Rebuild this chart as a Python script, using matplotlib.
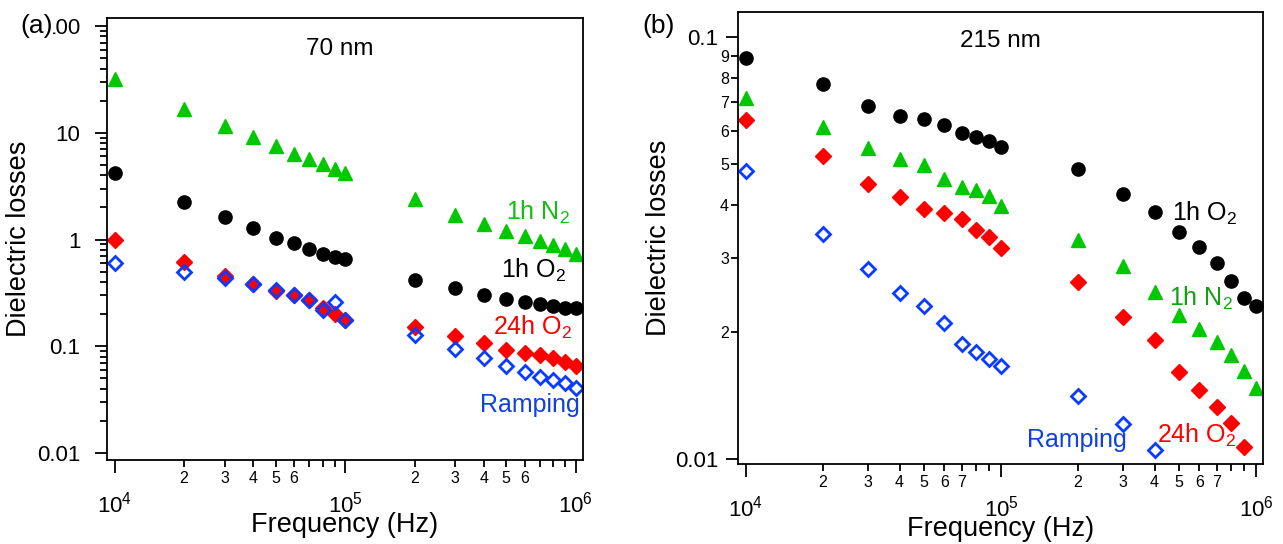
import numpy as np
import matplotlib
matplotlib.use('Agg')
import matplotlib.pyplot as plt
from matplotlib.ticker import FixedLocator, FuncFormatter

plt.rcParams['font.family'] = ['Liberation Sans', 'DejaVu Sans']
plt.rcParams['mathtext.fontset'] = 'custom'
plt.rcParams['mathtext.rm'] = 'Liberation Sans'
plt.rcParams['mathtext.it'] = 'Liberation Sans:italic'

nan = np.nan

freq = [1e4, 2e4, 3e4, 4e4, 5e4, 6e4, 7e4, 8e4, 9e4, 1e5,
        2e5, 3e5, 4e5, 5e5, 6e5, 7e5, 8e5, 9e5, 1e6]

# (a) 70 nm
n2_1h_70 = [32, 16.8, 11.6, 9.2, 7.6, 6.3, 5.7, 5.1, 4.6, 4.2,
            2.4, 1.7, 1.4, 1.19, 1.07, 0.96, 0.88, 0.82, 0.74]
o2_1h_70 = [4.2, 2.26, 1.61, 1.27, 1.04, 0.92, 0.82, 0.74, 0.69, 0.66,
            0.42, 0.35, 0.30, 0.28, 0.26, 0.25, 0.24, 0.23, 0.23]
o2_24h_70 = [1.0, 0.61, 0.46, 0.38, 0.33, 0.30, 0.27, 0.23, 0.20, 0.175,
             0.15, 0.124, 0.107, 0.092, 0.086, 0.082, 0.077, 0.072, 0.066]
ramp_70 = [0.60, 0.50, 0.44, 0.38, 0.34, 0.30, 0.27, 0.22, 0.26, 0.175,
           0.127, 0.094, 0.078, 0.065, 0.058, 0.051, 0.048, 0.045, 0.041]

# (b) 215 nm
o2_1h_215 = [0.0893, 0.0774, 0.0686, 0.0651, 0.0639, 0.0618, 0.0593, 0.0580, 0.0568, 0.0549,
             0.0486, 0.0425, 0.0384, 0.0345, 0.0318, 0.0291, 0.0264, 0.0241, 0.0230]
n2_1h_215 = [0.0718, 0.0613, 0.0545, 0.0513, 0.0498, 0.0460, 0.0440, 0.0434, 0.0421, 0.0398,
             0.0330, 0.0286, 0.0249, 0.0219, 0.0203, 0.0189, 0.0176, 0.0162, 0.0147]
o2_24h_215 = [0.0636, 0.0522, 0.0448, 0.0417, 0.0392, 0.0382, 0.0371, 0.0348, 0.0336, 0.0316,
              0.0262, 0.0217, 0.0191, 0.0161, 0.0146, 0.0133, 0.0122, 0.0107, nan]
ramp_215 = [0.0482, 0.0341, 0.0282, 0.0247, 0.0230, 0.0210, 0.0187, 0.0179, 0.0173, 0.0166,
            0.0141, 0.0121, 0.0105, nan, nan, nan, nan, nan, nan]

GREEN = '#00c800'
RED = '#ff0000'
BLUE = '#0a3cff'

fig = plt.figure(figsize=(12.83, 5.44), dpi=100)
ax1 = fig.add_axes([0.0834, 0.1544, 0.3710, 0.8125])
ax2 = fig.add_axes([0.5752, 0.1471, 0.4092, 0.8308])


def draw(ax, n2, o2, o224, ramp):
    ax.plot(freq, n2, ls='none', marker='^', ms=9.5, color=GREEN, mec=GREEN)
    ax.plot(freq, o2, ls='none', marker='o', ms=9.5, color='black')
    ax.plot(freq, o224, ls='none', marker='D', ms=8, color=RED, mec=RED)
    ax.plot(freq, ramp, ls='none', marker='D', ms=7.5, mfc='none', mec=BLUE, mew=2)


def style(ax, xlabelled):
    ax.set_xscale('log')
    ax.set_yscale('log')
    for s in ax.spines.values():
        s.set_linewidth(1.3)
    ax.xaxis.set_major_locator(FixedLocator([1e4, 1e5, 1e6]))
    ax.xaxis.set_major_formatter(FuncFormatter(
        lambda v, p: r'$\mathregular{10^{%d}}$' % round(np.log10(v))))
    ax.xaxis.set_minor_locator(FixedLocator([m * 10.0 ** e for e in (4, 5) for m in range(2, 10)]))

    def xminor(v, p):
        m = int(round(v / 10 ** np.floor(np.log10(v) + 1e-9)))
        return str(m) if m in xlabelled else ''
    ax.xaxis.set_minor_formatter(FuncFormatter(xminor))
    ax.tick_params(axis='x', which='major', direction='out', length=9, width=1.3,
                   labelsize=16, pad=14)
    ax.tick_params(axis='x', which='minor', direction='out', length=5, width=1.3,
                   labelsize=11.5, pad=3)
    ax.tick_params(axis='y', which='major', direction='out', length=9, width=1.3,
                   labelsize=16)
    ax.tick_params(axis='y', which='minor', direction='out', length=5, width=1.3,
                   labelsize=11.5, pad=1.5)
    ax.set_xlabel('Frequency (Hz)', fontsize=19.5, labelpad=-4)


draw(ax1, n2_1h_70, o2_1h_70, o2_24h_70, ramp_70)
style(ax1, (2, 3, 4, 5, 6))
ax1.set_xlim(9260, 1.076e6)
ax1.set_ylim(0.0086, 119)
ax1.yaxis.set_major_locator(FixedLocator([0.01, 0.1, 1, 10, 100]))
ax1.yaxis.set_major_formatter(FuncFormatter(lambda v, p: '%g' % v))
ax1.yaxis.set_minor_locator(FixedLocator([m * 10.0 ** e for e in range(-2, 2) for m in range(2, 10)]))
ax1.yaxis.set_minor_formatter(FuncFormatter(lambda v, p: ''))
ax1.tick_params(axis='y', which='major', pad=10)
ax1.set_ylabel('Dielectric losses', fontsize=19.5, labelpad=4)

ax1.text(0.489, 0.930, '70 nm', transform=ax1.transAxes, fontsize=17.5,
         ha='center', va='center')
ax1.text(0.973, 0.561, r'1h N$_\mathregular{2}$', transform=ax1.transAxes, fontsize=18,
         ha='right', va='center', color='#10c010')
ax1.text(0.966, 0.428, r'1h O$_\mathregular{2}$', transform=ax1.transAxes, fontsize=18,
         ha='right', va='center', color='black')
ax1.text(0.977, 0.299, r'24h O$_\mathregular{2}$', transform=ax1.transAxes, fontsize=18,
         ha='right', va='center', color=RED)
ax1.text(0.994, 0.124, 'Ramping', transform=ax1.transAxes, fontsize=18,
         ha='right', va='center', color='#1040e0')

draw(ax2, n2_1h_215, o2_1h_215, o2_24h_215, ramp_215)
style(ax2, (2, 3, 4, 5, 6, 7))
ax2.set_xlim(9300, 1.065e6)
ax2.set_ylim(0.00973, 0.1146)
ax2.yaxis.set_major_locator(FixedLocator([0.01, 0.1]))
ax2.yaxis.set_major_formatter(FuncFormatter(lambda v, p: '%g' % v))
ax2.yaxis.set_minor_locator(FixedLocator([m * 0.01 for m in range(2, 10)]))
ax2.yaxis.set_minor_formatter(FuncFormatter(lambda v, p: str(int(round(v * 100)))))
ax2.tick_params(axis='y', which='major', pad=5)
ax2.set_ylabel('Dielectric losses', fontsize=19.5, labelpad=2)

ax2.text(0.499, 0.936, '215 nm', transform=ax2.transAxes, fontsize=17.5,
         ha='center', va='center')
ax2.text(0.827, 0.555, r'1h O$_\mathregular{2}$', transform=ax2.transAxes, fontsize=18,
         ha='left', va='center', color='black')
ax2.text(0.821, 0.367, r'1h N$_\mathregular{2}$', transform=ax2.transAxes, fontsize=18,
         ha='left', va='center', color='#10a010')
ax2.text(0.550, 0.053, 'Ramping', transform=ax2.transAxes, fontsize=18,
         ha='left', va='center', color='#1040e0')
ax2.text(0.798, 0.064, r'24h O$_\mathregular{2}$', transform=ax2.transAxes, fontsize=18,
         ha='left', va='center', color=RED)

fig.text(0.0285, 0.952, '(a)', fontsize=19, ha='center', va='center',
         bbox=dict(facecolor='white', edgecolor='none', pad=0), zorder=10)
fig.text(0.513, 0.952, '(b)', fontsize=19, ha='center', va='center')

fig.savefig('out.png', dpi=100)
